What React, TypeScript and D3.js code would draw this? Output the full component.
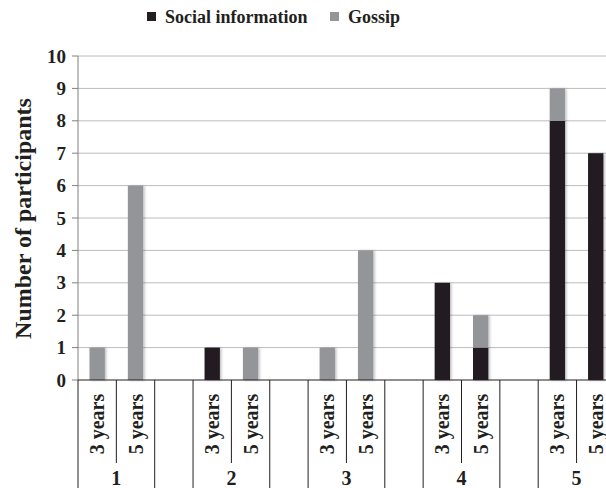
import React from "react";
import * as d3 from "d3";

const groups = ["1", "2", "3", "4", "5"];
const ages = ["3 years", "5 years", ""];
const socialInfo = [0, 0, 1, 0, 0, 0, 3, 1, 8, 7];
const gossip = [1, 6, 0, 1, 1, 4, 0, 1, 1, 0];
const yTicks = [0, 1, 2, 3, 4, 5, 6, 7, 8, 9, 10];
const seriesNames = ["Social information", "Gossip"];
const colors = ["#231f20", "#939598"];

const W = 606;
const H = 488;
const FONT = "'Liberation Serif', 'Times New Roman', serif";

export default function App() {
  const left = 78;
  const top = 56;
  const bottom = 380;
  const slotW = 38.35;

  const slots: { key: string; group: string; age: string; gi: number; ai: number }[] = [];
  groups.forEach((g, gi) =>
    ages.forEach((a, ai) => slots.push({ key: `${g}-${ai}`, group: g, age: a, gi, ai }))
  );

  const x = d3
    .scaleBand<string>()
    .domain(slots.map((s) => s.key))
    .range([left, left + slotW * slots.length])
    .padding(0);
  const y = d3.scaleLinear().domain([0, 10]).range([bottom, top]);
  const bw = x.bandwidth() * 0.4;

  const bars: { key: string; x: number; y0: number; y1: number; color: string }[] = [];
  let idx = 0;
  slots.forEach((s) => {
    if (s.age === "") return;
    const si = socialInfo[idx];
    const go = gossip[idx];
    const cx = (x(s.key) as number) + x.bandwidth() / 2;
    if (si > 0) bars.push({ key: s.key + "s", x: cx - bw / 2, y0: 0, y1: si, color: colors[0] });
    if (go > 0) bars.push({ key: s.key + "g", x: cx - bw / 2, y0: si, y1: si + go, color: colors[1] });
    idx++;
  });

  return (
    <svg
      width={W}
      height={H}
      style={{ position: "absolute", left: 0, top: 0, background: "#fff" }}
      fontFamily={FONT}
      fontWeight="bold"
    >
      <defs>
        <filter id="sh" x="-30%" y="-5%" width="160%" height="110%">
          <feDropShadow dx="1.5" dy="0.5" stdDeviation="1" floodColor="#000" floodOpacity="0.25" />
        </filter>
      </defs>
      {/* legend */}
      <rect x={147} y={12} width={9} height={9} fill={colors[0]} />
      <text x={165} y={23} fontSize={18} fill="#231f20">{seriesNames[0]}</text>
      <rect x={330} y={12} width={9} height={9} fill={colors[1]} />
      <text x={348} y={23} fontSize={18} fill="#231f20">{seriesNames[1]}</text>

      {/* gridlines */}
      {yTicks.filter((t) => t > 0).map((t) => (
        <line key={t} x1={left} x2={W} y1={y(t)} y2={y(t)} stroke="#bcbcbc" strokeWidth={1} />
      ))}
      {/* y axis */}
      <line x1={left} x2={left} y1={top} y2={bottom} stroke="#808080" strokeWidth={1} />
      {yTicks.map((t) => (
        <g key={t}>
          <line x1={left - 6} x2={left} y1={y(t)} y2={y(t)} stroke="#808080" />
          <text x={66} y={y(t)} dy="0.35em" textAnchor="end" fontSize={19} fill="#231f20">
            {t}
          </text>
        </g>
      ))}
      {/* y title */}
      <text
        transform={`translate(31, ${(92 + 345) / 2}) rotate(-90)`}
        textAnchor="middle"
        fontSize={24}
        fill="#231f20"
      >
        Number of participants
      </text>

      {/* bars */}
      {bars.map((b) => (
        <rect
          key={b.key}
          x={b.x}
          y={y(b.y1)}
          width={bw}
          height={y(b.y0) - y(b.y1)}
          fill={b.color}
          filter="url(#sh)"
        />
      ))}

      {/* x axis */}
      <line x1={left} x2={W} y1={bottom} y2={bottom} stroke="#231f20" strokeWidth={1} />
      {slots.map((s) => {
        const x0 = x(s.key) as number;
        const short = s.ai === 1;
        return (
          <line
            key={"sep" + s.key}
            x1={x0}
            x2={x0}
            y1={bottom}
            y2={short ? 463 : H}
            stroke="#231f20"
            strokeWidth={1}
          />
        );
      })}
      {slots
        .filter((s) => s.age !== "")
        .map((s) => {
          const cx = (x(s.key) as number) + x.bandwidth() / 2;
          return (
            <text
              key={"lab" + s.key}
              transform={`translate(${cx}, 424) rotate(-90)`}
              textAnchor="middle"
              dominantBaseline="central"
              fontSize={20}
              fill="#231f20"
            >
              {s.age}
            </text>
          );
        })}
      {groups.map((g) => {
        const x0 = x(`${g}-0`) as number;
        return (
          <text key={"g" + g} x={x0 + x.bandwidth()} y={485} textAnchor="middle" fontSize={20} fill="#231f20">
            {g}
          </text>
        );
      })}
    </svg>
  );
}
